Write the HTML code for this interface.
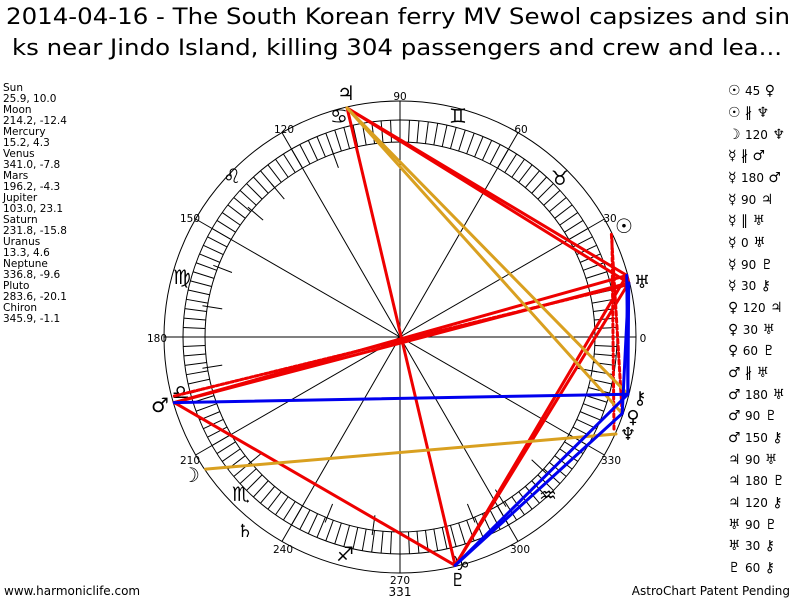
<!DOCTYPE html>
<html><head><meta charset="utf-8"><style>
body{margin:0;background:#fff;width:800px;height:600px;overflow:hidden}
svg{display:block}
text{font-family:"DejaVu Sans","Liberation Sans",sans-serif}
</style></head><body>
<svg width="800" height="600" viewBox="0 0 800 600" xmlns="http://www.w3.org/2000/svg">
<text x="6" y="24" font-size="22" textLength="784" lengthAdjust="spacingAndGlyphs">2014-04-16 - The South Korean ferry MV Sewol capsizes and sin</text>
<text x="12" y="55" font-size="22" textLength="770" lengthAdjust="spacingAndGlyphs">ks near Jindo Island, killing 304 passengers and crew and lea...</text>
<g font-size="10.5" fill="#000">
<text x="3" y="91">Sun</text><text x="3" y="102">25.9, 10.0</text>
<text x="3" y="113">Moon</text><text x="3" y="124">214.2, -12.4</text>
<text x="3" y="135">Mercury</text><text x="3" y="146">15.2, 4.3</text>
<text x="3" y="157">Venus</text><text x="3" y="168">341.0, -7.8</text>
<text x="3" y="179">Mars</text><text x="3" y="190">196.2, -4.3</text>
<text x="3" y="201">Jupiter</text><text x="3" y="212">103.0, 23.1</text>
<text x="3" y="223">Saturn</text><text x="3" y="234">231.8, -15.8</text>
<text x="3" y="245">Uranus</text><text x="3" y="256">13.3, 4.6</text>
<text x="3" y="267">Neptune</text><text x="3" y="278">336.8, -9.6</text>
<text x="3" y="289">Pluto</text><text x="3" y="300">283.6, -20.1</text>
<text x="3" y="311">Chiron</text><text x="3" y="322">345.9, -1.1</text>
</g>
<g fill="none" stroke="#000" stroke-width="1">
<circle cx="400" cy="337" r="236"/>
<circle cx="400" cy="337" r="217"/>
<circle cx="400" cy="337" r="195"/>
<line x1="164" y1="337" x2="636" y2="337"/>
<line x1="400" y1="101" x2="400" y2="573"/>
<line x1="195.6" y1="219" x2="604.4" y2="455"/>
<line x1="195.6" y1="455" x2="604.4" y2="219"/>
<line x1="282" y1="132.6" x2="518" y2="541.4"/>
<line x1="282" y1="541.4" x2="518" y2="132.6"/>
</g>
<g id="ticks" stroke="#000" stroke-width="1"></g>
<g font-size="10.5" text-anchor="middle">
<text x="400" y="100">90</text><text x="284" y="133">120</text><text x="521" y="133">60</text>
<text x="190" y="222">150</text><text x="610" y="222">30</text>
<text x="157" y="342">180</text><text x="643" y="342">0</text>
<text x="190" y="464">210</text><text x="611" y="464">330</text>
<text x="283" y="553">240</text><text x="520" y="553">300</text>
<text x="400" y="584">270</text><text x="400" y="596" font-size="12">331</text>
</g>
<g font-size="20" text-anchor="middle">
<text x="458" y="123">♊</text><text x="560" y="185">♉</text><text x="339" y="123">♋</text>
<text x="232" y="183">♌</text><text x="182" y="284">♍</text><text x="181" y="399">♎</text>
<text x="241" y="501">♏</text><text x="345" y="561">♐</text><text x="461" y="570">♑</text>
<text x="548" y="502">♒</text>
</g>
<g stroke-linecap="round" fill="none">
<g stroke="#ee0000" stroke-width="3">
<line x1="611.4" y1="234.4" x2="622.2" y2="413.5" stroke-dasharray="4 3"/>
<line x1="626.8" y1="275.4" x2="174.3" y2="402.6"/>
<line x1="626.8" y1="285" x2="174.3" y2="396" stroke-dasharray="3 2"/>
<line x1="626.8" y1="275.4" x2="347.1" y2="108"/>
<line x1="626.8" y1="275.4" x2="628.7" y2="283"/>
<line x1="626.8" y1="275.4" x2="455.2" y2="565.4"/>
<line x1="628.7" y1="283" x2="174.3" y2="402.6"/>
<line x1="628.7" y1="283" x2="347.1" y2="108"/>
<line x1="628.7" y1="283" x2="455.2" y2="565.4"/>
<line x1="174.3" y1="402.6" x2="455.2" y2="565.4"/>
<line x1="347.1" y1="108" x2="455.2" y2="565.4"/>
<line x1="612" y1="240" x2="614" y2="430" stroke-dasharray="3 3"/>
</g>
<g stroke="#d9a020" stroke-width="3">
<line x1="205.6" y1="469.1" x2="616" y2="434"/>
<line x1="347.1" y1="108" x2="622.2" y2="413.5"/>
<line x1="347.1" y1="108" x2="627.9" y2="394.2"/>
</g>
<g stroke="#0000ee" stroke-width="3">
<line x1="626.8" y1="275.4" x2="627.9" y2="394.2"/>
<line x1="628.7" y1="283" x2="622.2" y2="413.5"/>
<line x1="628.7" y1="283" x2="627.9" y2="394.2"/>
<line x1="174.3" y1="402.6" x2="627.9" y2="394.2"/>
<line x1="455.2" y1="565.4" x2="622.2" y2="413.5"/>
<line x1="455.2" y1="565.4" x2="627.9" y2="394.2"/>
</g>
</g>
<g font-size="20" text-anchor="middle">
<text x="346" y="100">♃</text><text x="624" y="233">☉</text>
<text x="642" y="288" font-size="18">♅</text>
<text x="640" y="404" font-size="18">⚷</text><text x="633" y="423" font-size="18">♀</text>
<text x="628" y="440" font-size="18">♆</text><text x="458" y="586" font-size="18">♇</text>
<text x="160" y="412">♂</text><text x="191" y="482">☽</text><text x="245" y="537" font-size="18">♄</text>
</g>
<g font-size="14">
<text x="728" y="95">☉ <tspan font-size="12">45</tspan> ♀</text>
<text x="728" y="117">☉ ∦ ♆</text>
<text x="728" y="139">☽ <tspan font-size="12">120</tspan> ♆</text>
<text x="728" y="160">☿ ∦ ♂</text>
<text x="728" y="182">☿ <tspan font-size="12">180</tspan> ♂</text>
<text x="728" y="204">☿ <tspan font-size="12">90</tspan> ♃</text>
<text x="728" y="225">☿ ∥ ♅</text>
<text x="728" y="247">☿ <tspan font-size="12">0</tspan> ♅</text>
<text x="728" y="269">☿ <tspan font-size="12">90</tspan> ♇</text>
<text x="728" y="290">☿ <tspan font-size="12">30</tspan> ⚷</text>
<text x="728" y="312">♀ <tspan font-size="12">120</tspan> ♃</text>
<text x="728" y="334">♀ <tspan font-size="12">30</tspan> ♅</text>
<text x="728" y="355">♀ <tspan font-size="12">60</tspan> ♇</text>
<text x="728" y="377">♂ ∦ ♅</text>
<text x="728" y="399">♂ <tspan font-size="12">180</tspan> ♅</text>
<text x="728" y="420">♂ <tspan font-size="12">90</tspan> ♇</text>
<text x="728" y="442">♂ <tspan font-size="12">150</tspan> ⚷</text>
<text x="728" y="464">♃ <tspan font-size="12">90</tspan> ♅</text>
<text x="728" y="485">♃ <tspan font-size="12">180</tspan> ♇</text>
<text x="728" y="507">♃ <tspan font-size="12">120</tspan> ⚷</text>
<text x="728" y="529">♅ <tspan font-size="12">90</tspan> ♇</text>
<text x="728" y="550">♅ <tspan font-size="12">30</tspan> ⚷</text>
<text x="728" y="572">♇ <tspan font-size="12">60</tspan> ⚷</text>
</g>
<text x="4" y="595" font-size="12">www.harmoniclife.com</text>
<text x="790" y="595" font-size="12" text-anchor="end">AstroChart Patent Pending</text>
</svg>
<script>
var g=document.getElementById('ticks'),s='';
for(var a=0;a<360;a+=2.5){var r=a*Math.PI/180,c=Math.cos(r),n=Math.sin(r);
s+='<line x1="'+(400+195*c)+'" y1="'+(337-195*n)+'" x2="'+(400+217*c)+'" y2="'+(337-217*n)+'"/>';}
var L=[110,130,139.5,159,171,189,220,248,262,292,302,317,350];
for(var i=0;i<L.length;i++){var r=L[i]*Math.PI/180,c=Math.cos(r),n=Math.sin(r);
s+='<line x1="'+(400+180*c)+'" y1="'+(337-180*n)+'" x2="'+(400+200*c)+'" y2="'+(337-200*n)+'"/>';}
g.innerHTML=s;
</script>
</body></html>
